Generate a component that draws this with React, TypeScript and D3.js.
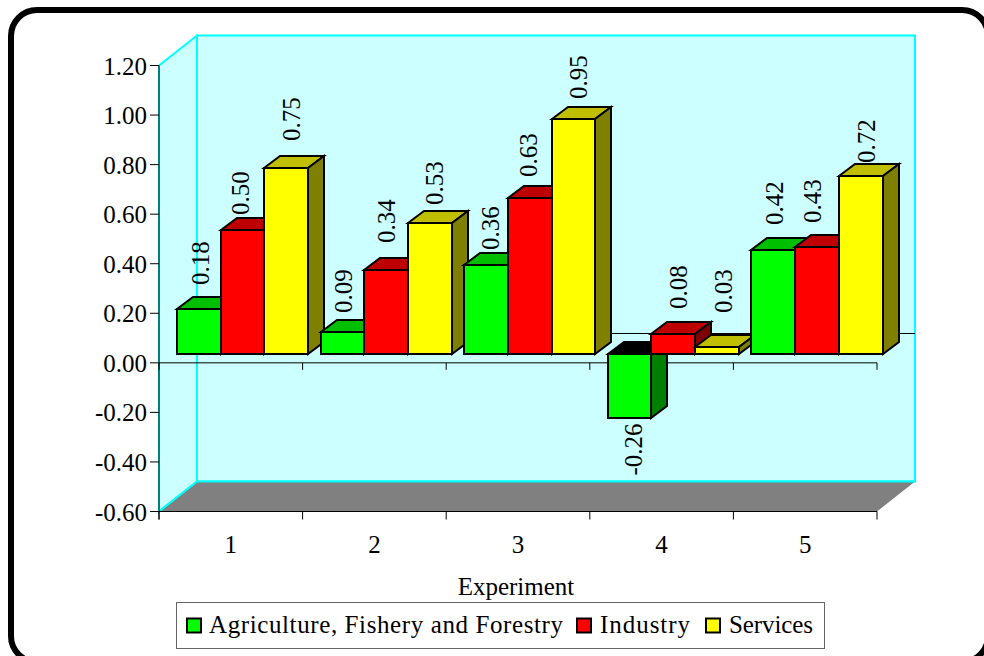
import React from "react";
import * as d3 from "d3";

const categories = ["1", "2", "3", "4", "5"];
const seriesNames = ["Agriculture, Fishery and Forestry", "Industry", "Services"];
const agriculture = [0.18, 0.09, 0.36, -0.26, 0.42];
const industry = [0.5, 0.34, 0.63, 0.08, 0.43];
const services = [0.75, 0.53, 0.95, 0.03, 0.72];
const seriesValues = [agriculture, industry, services];
const yTicks = [1.2, 1.0, 0.8, 0.6, 0.4, 0.2, 0.0, -0.2, -0.4, -0.6];
const frontColors = ["#00FF00", "#FF0000", "#FFFF00"];
const topColors = ["#00BF00", "#BF0000", "#BFBF00"];
const sideColors = ["#007F00", "#7F0000", "#7F7F00"];

const W = 984, H = 656;
const L = 159, R = 877, T = 65.5, B = 511.5;
const DX = 38, DY = 30;
const barDX = 16, barDY = 12;
const barOffX = 10.7, barOffY = 8.8;
const font = "'Liberation Serif', 'Times New Roman', serif";
const FS = 25;

// small per-label layout nudges [group][series], relative to each bar
const labelNudgeX = [
  [0, -3.6, 3.6],
  [-0.5, -1.2, 3],
  [2.9, -2.8, 3.4],
  [2.3, 3.6, 4.8],
  [-0.3, -6, 4.2],
];
const labelNudgeY = [
  [-2.4, 6.9, -5.2],
  [3.3, -4.7, 4.3],
  [7.2, 1.1, 2.4],
  [2, -3.2, -11.6],
  [-2.9, -2.4, 9.4],
];

const y = d3.scaleLinear().domain([-0.6, 1.2]).range([B, T]);
const x0 = d3.scaleBand<string>().domain(categories).range([L, R]);
const x1 = d3.scaleBand<number>().domain([0, 1, 2]).range([7.2, 138.4]);
const pts = (a: number[][]) => a.map((p) => p.join(",")).join(" ");

const legendLayout = [
  { swatch: 187, text: 209, len: 354 },
  { swatch: 577, text: 600, len: 90 },
  { swatch: 706, text: 729, len: 84 },
];

export default function App() {
  const y0 = y(0);
  const base = y0 - barOffY;
  const scale = y(0) - y(1);
  return (
    <svg width={W} height={H} style={{ position: "absolute", left: 0, top: 0, background: "#fff" }} fontFamily={font} fill="#000">
      <rect x={11} y={10} width={977} height={652} rx={26} ry={26} fill="#fff" stroke="#000" strokeWidth={6} />
      {/* walls */}
      <polygon points={pts([[L, T], [L + DX, T - DY], [L + DX, B - DY], [L, B]])} fill="#CCFFFF" stroke="#00FFFF" strokeWidth={2} />
      <rect x={L + DX} y={T - DY} width={R - L} height={B - T} fill="#CCFFFF" stroke="#00FFFF" strokeWidth={2} />
      <polygon points={pts([[L, B], [L + DX, B - DY], [R + DX, B - DY], [R, B]])} fill="#808080" />
      <line x1={L + DX} x2={R + DX} y1={B - DY} y2={B - DY} stroke="#00FFFF" strokeWidth={2} />
      <line x1={L} y1={B} x2={L + DX} y2={B - DY} stroke="#00FFFF" strokeWidth={2} />
      <line x1={L + DX} x2={R + DX} y1={Math.round(y0 - DY) + 0.5} y2={Math.round(y0 - DY) + 0.5} stroke="#000" strokeWidth={1} />
      {/* axes */}
      <line x1={L} x2={L} y1={T} y2={B} stroke="#007F7F" strokeWidth={2} />
      <line x1={L} x2={L} y1={B} y2={B + 8} stroke="#000" strokeWidth={1} />
      <line x1={L} x2={R} y1={y0} y2={y0} stroke="#000" strokeWidth={1} />
      <line x1={L} x2={R} y1={B} y2={B} stroke="#000" strokeWidth={1} />
      {yTicks.map((t) => (
        <g key={t}>
          <line x1={L - 9} x2={L} y1={y(t)} y2={y(t)} stroke="#000" strokeWidth={1} />
          <text x={L - 12} y={y(t) + 9} textAnchor="end" fontSize={FS}>{t.toFixed(2)}</text>
        </g>
      ))}
      {[...categories.map((c) => x0(c)!), R].map((px) => (
        <g key={px}>
          <line x1={px} x2={px} y1={y0} y2={y0 + 7} stroke="#000" strokeWidth={1} />
          <line x1={px} x2={px} y1={B} y2={B + 8} stroke="#000" strokeWidth={1} />
        </g>
      ))}
      {categories.map((c) => (
        <text key={c} x={x0(c)! + x0.bandwidth() / 2} y={553} textAnchor="middle" fontSize={FS}>{c}</text>
      ))}
      {/* bars */}
      {categories.map((c, i) => (
        <g key={c}>
          {seriesValues.map((vals, s) => {
            const v = vals[i];
            const xa = Math.round(x0(c)! + barOffX + x1(s)!);
            const xb = Math.round(x0(c)! + barOffX + x1(s)! + x1.bandwidth());
            const h = v * scale;
            const top = Math.round(base - Math.max(h, 0));
            const bot = Math.round(base - Math.min(h, 0));
            const neg = v < 0;
            return (
              <g key={s} stroke="#000" strokeWidth={2} strokeLinejoin="miter">
                <polygon points={pts([[xa, top], [xa + barDX, top - barDY], [xb + barDX, top - barDY], [xb, top]])} fill={neg ? "#000" : topColors[s]} />
                <polygon points={pts([[xb, top], [xb + barDX, top - barDY], [xb + barDX, bot - barDY], [xb, bot]])} fill={sideColors[s]} />
                <rect x={xa} y={top} width={xb - xa} height={bot - top} fill={frontColors[s]} />
              </g>
            );
          })}
          {seriesValues.map((vals, s) => {
            const v = vals[i];
            const xa = x0(c)! + barOffX + x1(s)!;
            const h = v * scale;
            const ty = (v < 0 ? base - h + 3 : base - h - 22) + labelNudgeY[i][s];
            return (
              <text key={s} transform={`translate(${xa + 32 + labelNudgeX[i][s]},${ty}) rotate(-90)`} textAnchor={v < 0 ? "end" : "start"} fontSize={FS}>
                {v.toFixed(2)}
              </text>
            );
          })}
        </g>
      ))}
      <text x={516} y={595} textAnchor="middle" fontSize={FS}>Experiment</text>
      {/* legend */}
      <rect x={176.5} y={602.5} width={648} height={46} fill="#fff" stroke="#666" strokeWidth={1} />
      {legendLayout.map((l, s) => (
        <g key={s}>
          <rect x={l.swatch} y={618.5} width={14} height={14} fill={frontColors[s]} stroke="#000" strokeWidth={2} />
          <text x={l.text} y={633} fontSize={FS} textLength={l.len}>{seriesNames[s]}</text>
        </g>
      ))}
    </svg>
  );
}
